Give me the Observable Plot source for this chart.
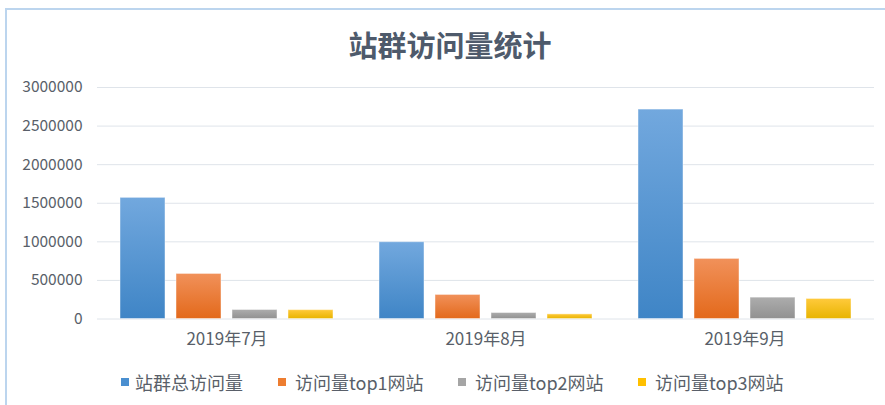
<!DOCTYPE html>
<html>
<head>
<meta charset="utf-8">
<script src="https://cdn.jsdelivr.net/npm/d3@7"></script>
<script src="https://cdn.jsdelivr.net/npm/@observablehq/plot@0.6"></script>
<style>
  html, body { margin: 0; padding: 0; background: #fff; overflow: hidden; }
  #wrap { position: relative; width: 885px; height: 405px; overflow: hidden; font-family: "Noto Sans CJK SC", "Noto Sans", sans-serif; }
  #frame { position: absolute; left: 5px; top: 8px; width: 1000px; height: 1000px; border-left: 2px solid #bcd5ee; border-top: 2px solid #bcd5ee; pointer-events: none; }
  #title { position: absolute; left: 0; top: 0; width: 900px; height: 87px; display: flex; align-items: center; justify-content: center; font-size: 29px; font-weight: bold; color: #4e5a6b; }
  #chart { position: absolute; left: 0; top: 0; }
  #legend { position: absolute; left: 0; top: 371px; width: 885px; height: 22px; font-size: 18px; color: #595f69; }
  .item { position: absolute; top: 0; height: 22px; line-height: 22px; white-space: nowrap; }
  .sw { position: absolute; top: 7px; width: 8px; height: 8px; }
</style>
</head>
<body>
<div id="wrap">
  <div id="frame"></div>
  <div id="chart"></div>
  <div id="title"></div>
  <div id="legend"></div>
</div>
<script>
const titleText = "站群访问量统计";
const months = ["2019年7月", "2019年8月", "2019年9月"];
const seriesNames = ["站群总访问量", "访问量top1网站", "访问量top2网站", "访问量top3网站"];
const totalVisits = [1570000, 995000, 2714000];
const top1Visits = [584000, 312000, 779000];
const top2Visits = [117000, 78000, 277000];
const top3Visits = [115000, 60000, 260000];
const yTicks = [0, 500000, 1000000, 1500000, 2000000, 2500000, 3000000];

const seriesValues = [totalVisits, top1Visits, top2Visits, top3Visits];
const gradients = [
  ["#72a8de", "#3f85c6"],
  ["#f1915a", "#e3691b"],
  ["#adadad", "#919191"],
  ["#ffca3c", "#e8b400"]
];
const solid = ["#4a8fd0", "#ed7d31", "#a5a5a5", "#ffc000"];

const data = [];
seriesNames.forEach((s, i) => {
  months.forEach((m, j) => data.push({month: m, series: s, si: i, value: seriesValues[i][j]}));
});

document.getElementById("title").textContent = titleText;

const barMarks = seriesNames.map((s, i) =>
  Plot.barY(data.filter(d => d.si === i), {
    fx: "month", x: "series", y: "value",
    fill: `url(#grad${i})`,
    stroke: "#ffffff", strokeOpacity: 0.45, strokeWidth: 1
  })
);

const chart = Plot.plot({
  width: 885,
  height: 360,
  marginTop: 87,
  marginBottom: 41.5,
  marginLeft: 96,
  marginRight: 10,
  style: {fontFamily: '"Noto Sans CJK SC", "Noto Sans", sans-serif', background: "transparent", color: "#595f69"},
  fx: {domain: months, paddingInner: 0, paddingOuter: 0, label: null},
  x: {domain: seriesNames, paddingInner: 0.19, paddingOuter: 0.4, axis: null},
  y: {domain: [0, 3000000], label: null},
  marks: [
    Plot.ruleY(yTicks, {stroke: "#dfe4ea", strokeWidth: 1}),
    ...barMarks,
    Plot.axisY({ticks: yTicks, tickSize: 0, tickPadding: 15, tickFormat: d3.format("d"), fontSize: 15.5, label: null, fill: "#595f69"}),
    Plot.axisFx({anchor: "bottom", tickSize: 0, tickPadding: 14, fontSize: 17, label: null, fill: "#595f69"})
  ]
});

const svg = d3.select(chart);
const defs = svg.insert("defs", ":first-child");
gradients.forEach((g, i) => {
  const lg = defs.append("linearGradient").attr("id", `grad${i}`).attr("x1", 0).attr("y1", 0).attr("x2", 0).attr("y2", 1);
  lg.append("stop").attr("offset", "0%").attr("stop-color", g[0]);
  lg.append("stop").attr("offset", "100%").attr("stop-color", g[1]);
});
document.getElementById("chart").appendChild(chart);

// legend
const legendX = [121, 278, 458, 638];
const legend = document.getElementById("legend");
seriesNames.forEach((s, i) => {
  const item = document.createElement("div");
  item.className = "item";
  item.style.left = legendX[i] + "px";
  const sw = document.createElement("span");
  sw.className = "sw";
  sw.style.left = "0px";
  sw.style.background = solid[i];
  const tx = document.createElement("span");
  tx.style.marginLeft = (i === 0 ? 14 : 17) + "px";
  tx.textContent = s;
  item.appendChild(sw);
  item.appendChild(tx);
  legend.appendChild(item);
});
</script>
</body>
</html>
